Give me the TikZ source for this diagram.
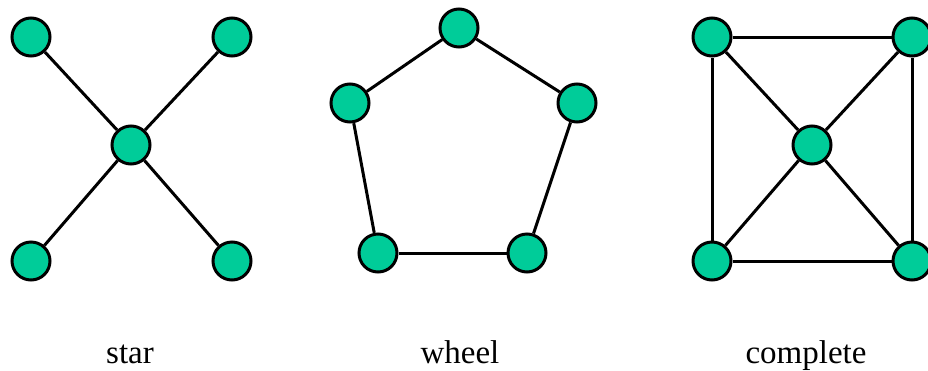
\documentclass[tikz,border=0pt]{standalone}
\usepackage{fontspec}
\setmainfont{Liberation Serif}
\definecolor{verde}{RGB}{0,204,153}

\begin{document}
\begin{tikzpicture}[x=1pt, y=-1pt, line width=3pt]
	% Stile comune per i vertici
	\tikzset{nodo/.style={circle, draw, fill=verde, minimum size=38pt, inner sep=0pt},
		etichetta/.style={anchor=base, font=\fontsize{33}{36}\selectfont}}
	
	\useasboundingbox (0,0) rectangle (928,370);
	\clip (0,0) rectangle (928,370);
	
	% Stella
	\node[nodo] (S0) at (131, 145) {};
	\node[nodo] (S1) at (31, 37) {};
	\node[nodo] (S2) at (232, 37) {};
	\node[nodo] (S3) at (31, 261) {};
	\node[nodo] (S4) at (232, 261) {};
	
	\draw (S0) -- (S1);
	\draw (S0) -- (S2);
	\draw (S0) -- (S3);
	\draw (S0) -- (S4);
	
	% Ruota (pentagono)
	\node[nodo] (W1) at (459, 28) {};
	\node[nodo] (W2) at (577, 103) {};
	\node[nodo] (W3) at (527, 253) {};
	\node[nodo] (W4) at (378, 253) {};
	\node[nodo] (W5) at (350, 103) {};
	
	\draw (W1) -- (W2);
	\draw (W2) -- (W3);
	\draw (W3) -- (W4);
	\draw (W4) -- (W5);
	\draw (W5) -- (W1);
	
	% Completo
	\node[nodo] (C0) at (812, 145) {};
	\node[nodo] (C1) at (712, 37) {};
	\node[nodo] (C2) at (912, 37) {};
	\node[nodo] (C3) at (712, 261) {};
	\node[nodo] (C4) at (912, 261) {};
	
	\draw (C1) -- (C2);
	\draw (C2) -- (C4);
	\draw (C4) -- (C3);
	\draw (C3) -- (C1);
	\draw (C0) -- (C1);
	\draw (C0) -- (C2);
	\draw (C0) -- (C3);
	\draw (C0) -- (C4);
	
	% Didascalie
	\node[etichetta] (Lstar) at (130, 363) {star};
	\node[etichetta] (Lwheel) at (460, 363) {wheel};
	\node[etichetta] (Lcomplete) at (806, 363) {complete};
	
\end{tikzpicture}
\end{document}
